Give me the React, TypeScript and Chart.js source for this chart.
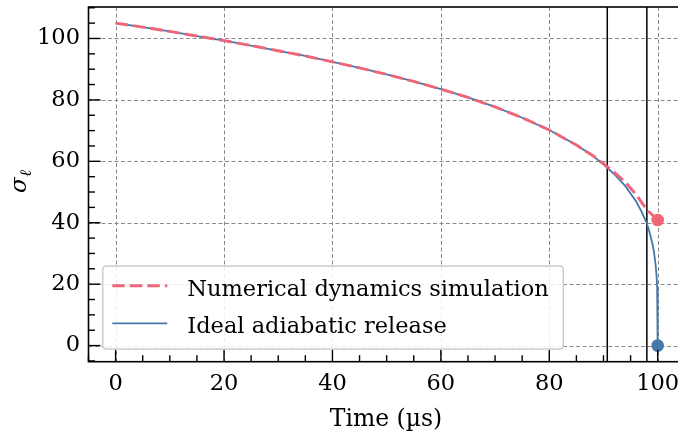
import React, { useEffect, useRef } from "react";
import { Chart, registerables } from "chart.js";

Chart.register(...registerables);

// ---- data ----
const timeIdeal = [0, 5, 10, 15, 20, 25, 30, 35, 40, 45, 50, 55, 60, 65, 70, 75, 80, 85, 88, 90, 92, 94, 96, 97, 98, 98.5, 99, 99.3, 99.6, 99.8, 99.9, 99.97, 100];
const sigmaIdeal = [105, 103.7, 102.3, 100.8, 99.3, 97.7, 96.0, 94.3, 92.4, 90.4, 88.3, 86.0, 83.5, 80.8, 77.7, 74.2, 70.2, 65.3, 61.8, 59.0, 55.8, 52.0, 47.0, 43.7, 39.8, 36.9, 33.4, 30.6, 26.6, 22.4, 19.0, 14.5, 0];

const timeSim = [0, 5, 10, 15, 20, 25, 30, 35, 40, 45, 50, 55, 60, 65, 70, 75, 80, 85, 88, 90, 92, 94, 96, 98, 100];
const sigmaSim = [105, 103.7, 102.3, 100.8, 99.3, 97.7, 96.0, 94.3, 92.4, 90.4, 88.3, 86.0, 83.5, 80.8, 77.7, 74.2, 70.2, 65.3, 61.9, 59.2, 56.4, 53.3, 49.2, 44.2, 40.9];

const markerLines = [90.7, 98.0];
const endTime = [100, 100];
const endValues = [40.9, 0];

const xTickValues = [0, 20, 40, 60, 80, 100];
const yTickValues = [0, 20, 40, 60, 80, 100];
const seriesNames = ["Numerical dynamics simulation", "Ideal adiabatic release"];
const xTitle = "Time (µs)";
const yTitleMain = "σ";
const yTitleSub = "ℓ";

const RED = "#EE6677";
const BLUE = "#4477AA";
const FONT = "DejaVu Serif";
const RED_DASH = [12.5, 5];

const decorPlugin = {
  id: "decor",
  beforeDatasetsDraw(chart: any) {
    const { ctx, chartArea, scales } = chart;
    const { left, right, top, bottom } = chartArea;
    const x = scales.x;
    const y = scales.y;
    ctx.save();
    ctx.strokeStyle = "#8a8a8a";
    ctx.lineWidth = 1;
    ctx.setLineDash([4, 2.5]);
    for (const v of xTickValues) {
      const px = Math.round(x.getPixelForValue(v)) + 0.5;
      ctx.beginPath();
      ctx.moveTo(px, top);
      ctx.lineTo(px, bottom);
      ctx.stroke();
    }
    for (const v of yTickValues) {
      const py = Math.round(y.getPixelForValue(v)) + 0.5;
      ctx.beginPath();
      ctx.moveTo(left, py);
      ctx.lineTo(right, py);
      ctx.stroke();
    }
    ctx.restore();
  },
  afterDatasetsDraw(chart: any) {
    const { ctx, chartArea, scales } = chart;
    const { left, right, top, bottom } = chartArea;
    const x = scales.x;
    const y = scales.y;
    ctx.save();
    ctx.setLineDash([]);
    ctx.strokeStyle = "#000";
    // ticks (inside)
    ctx.lineWidth = 1.4;
    for (let v = -5; v <= 105.001; v += 5) {
      const px = x.getPixelForValue(v);
      const len = Math.abs(v % 20) < 1e-6 ? 12 : 6.5;
      ctx.beginPath();
      ctx.moveTo(px, bottom);
      ctx.lineTo(px, bottom - len);
      ctx.stroke();
    }
    for (let v = -5; v <= 110.001; v += 5) {
      const py = y.getPixelForValue(v);
      const len = Math.abs(v % 20) < 1e-6 ? 12 : 6.5;
      ctx.beginPath();
      ctx.moveTo(left, py);
      ctx.lineTo(left + len, py);
      ctx.stroke();
    }
    // frame
    ctx.lineWidth = 1.6;
    ctx.strokeRect(left, top, right - left, bottom - top);

    // legend
    const lx = 102.7, ly = 266, lw = 460.6, lh = 83, r = 4;
    ctx.beginPath();
    ctx.moveTo(lx + r, ly);
    ctx.lineTo(lx + lw - r, ly);
    ctx.quadraticCurveTo(lx + lw, ly, lx + lw, ly + r);
    ctx.lineTo(lx + lw, ly + lh - r);
    ctx.quadraticCurveTo(lx + lw, ly + lh, lx + lw - r, ly + lh);
    ctx.lineTo(lx + r, ly + lh);
    ctx.quadraticCurveTo(lx, ly + lh, lx, ly + lh - r);
    ctx.lineTo(lx, ly + r);
    ctx.quadraticCurveTo(lx, ly, lx + r, ly);
    ctx.closePath();
    ctx.fillStyle = "rgba(255,255,255,0.85)";
    ctx.fill();
    ctx.strokeStyle = "#cccccc";
    ctx.lineWidth = 1.5;
    ctx.stroke();

    ctx.lineWidth = 2.9;
    ctx.strokeStyle = RED;
    ctx.setLineDash(RED_DASH);
    ctx.beginPath();
    ctx.moveTo(112.3, 285.7);
    ctx.lineTo(167.3, 285.7);
    ctx.stroke();
    ctx.setLineDash([]);
    ctx.lineWidth = 1.8;
    ctx.strokeStyle = BLUE;
    ctx.beginPath();
    ctx.moveTo(112.3, 323.3);
    ctx.lineTo(167.3, 323.3);
    ctx.stroke();

    ctx.fillStyle = "#000";
    ctx.font = `22.5px '${FONT}'`;
    ctx.textAlign = "left";
    ctx.textBaseline = "alphabetic";
    ctx.fillText(seriesNames[0], 187.3, 295.7);
    ctx.fillText(seriesNames[1], 187.3, 332.7);

    // x title
    ctx.textAlign = "center";
    ctx.font = `23.5px '${FONT}'`;
    ctx.fillText(xTitle, 386, 426);

    // y title with subscript
    ctx.translate(26, 180);
    ctx.rotate(-Math.PI / 2);
    ctx.textAlign = "left";
    ctx.font = `italic 23px '${FONT}'`;
    const w1 = ctx.measureText(yTitleMain).width;
    ctx.fillText(yTitleMain, -13, 0);
    ctx.font = `italic 16px '${FONT}'`;
    ctx.fillText(yTitleSub, -13 + w1 + 0.5, 4.5);
    ctx.restore();
  },
};

export default function App() {
  const ref = useRef<HTMLCanvasElement | null>(null);
  useEffect(() => {
    const canvas = ref.current;
    if (!canvas) return;
    const chart = new Chart(canvas, {
      type: "scatter",
      data: {
        datasets: [
          {
            label: "simEnd",
            data: [{ x: endTime[0], y: endValues[0] }],
            pointRadius: 6.3,
            pointBackgroundColor: RED,
            pointBorderWidth: 0,
            backgroundColor: RED,
          },
          {
            label: "idealEnd",
            data: [{ x: endTime[1], y: endValues[1] }],
            pointRadius: 6.3,
            pointBackgroundColor: BLUE,
            pointBorderWidth: 0,
            backgroundColor: BLUE,
          },
          {
            label: seriesNames[0],
            data: timeSim.map((t, i) => ({ x: t, y: sigmaSim[i] })),
            showLine: true,
            borderColor: RED,
            borderWidth: 2.9,
            borderDash: RED_DASH,
            pointRadius: 0,
            tension: 0,
          },
          {
            label: seriesNames[1],
            data: timeIdeal.map((t, i) => ({ x: t, y: sigmaIdeal[i] })),
            showLine: true,
            borderColor: BLUE,
            borderWidth: 1.8,
            pointRadius: 0,
            tension: 0,
          },
          ...markerLines.map((m) => ({
            label: "marker",
            data: [
              { x: m, y: -20 },
              { x: m, y: 130 },
            ],
            showLine: true,
            borderColor: "#000",
            borderWidth: 1.5,
            pointRadius: 0,
          })),
        ],
      },
      options: {
        animation: false,
        responsive: false,
        devicePixelRatio: 1,
        events: [],
        layout: { padding: { left: 0, right: 15.2, top: 7, bottom: 0 } },
        plugins: { legend: { display: false }, tooltip: { enabled: false } },
        scales: {
          x: {
            type: "linear",
            min: -5,
            max: 105,
            afterFit: (s: any) => {
              s.height = 70.3;
              s.paddingLeft = 0;
              s.paddingRight = 0;
              s.paddingTop = 0;
              s.paddingBottom = 0;
            },
            grid: { display: false, drawTicks: false, tickLength: 0 },
            border: { display: false },
            ticks: {
              stepSize: 20,
              includeBounds: false,
              padding: 9,
              color: "#000",
              maxRotation: 0,
              font: { family: FONT, size: 22.5 },
            },
          },
          y: {
            type: "linear",
            min: -5.25,
            max: 110.25,
            afterFit: (s: any) => {
              s.width = 88.5;
              s.paddingLeft = 0;
              s.paddingRight = 0;
              s.paddingTop = 0;
              s.paddingBottom = 0;
            },
            grid: { display: false, drawTicks: false, tickLength: 0 },
            border: { display: false },
            ticks: {
              stepSize: 20,
              includeBounds: false,
              padding: 8.5,
              color: "#000",
              font: { family: FONT, size: 22.5 },
            },
          },
        },
      },
      plugins: [decorPlugin],
    } as any);
    return () => chart.destroy();
  }, []);
  return (
    <div style={{ position: "fixed", left: 0, top: 0, width: 678, height: 432, overflow: "hidden", background: "#fff" }}>
      <canvas ref={ref} width={700} height={432} style={{ display: "block" }} />
    </div>
  );
}
